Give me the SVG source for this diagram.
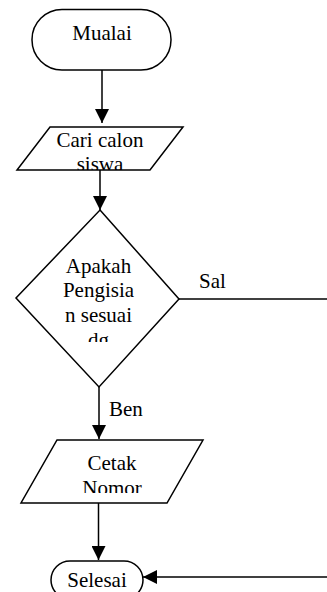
<svg xmlns="http://www.w3.org/2000/svg" width="327" height="592" viewBox="0 0 327 592">
<style>
.s{fill:#fff;stroke:#000;stroke-width:1.5}
.l{fill:none;stroke:#000;stroke-width:1.5}
text{font-family:"Liberation Serif","Times New Roman",serif;font-size:21px;fill:#000}
.c{text-anchor:middle}
</style>
<defs>
<marker id="ah" markerWidth="14" markerHeight="14" refX="14" refY="7" orient="auto" markerUnits="userSpaceOnUse">
<path d="M0,0 L14,7 L0,14 Z" fill="#000"/>
</marker>
<clipPath id="c1"><rect x="40" y="127" width="130" height="43"/></clipPath>
<clipPath id="c2"><rect x="40" y="250" width="120" height="92"/></clipPath>
<clipPath id="c3"><rect x="40" y="440" width="150" height="53"/></clipPath>
</defs>
<g id="connectors">
<line class="l" x1="102" y1="70" x2="102" y2="123" marker-end="url(#ah)"/>
<line class="l" x1="100" y1="170" x2="100" y2="210" marker-end="url(#ah)"/>
<line class="l" x1="179" y1="299" x2="327" y2="299"/>
<text x="199" y="288">Sal</text>
<line class="l" x1="99" y1="387" x2="99" y2="439" marker-end="url(#ah)"/>
<text x="109" y="416">Ben</text>
<line class="l" x1="98.5" y1="503" x2="98.5" y2="560" marker-end="url(#ah)"/>
<line class="l" x1="327" y1="577" x2="143" y2="577" marker-end="url(#ah)"/>
</g>
<g id="mulai">
<rect class="s" x="32" y="9.5" width="139" height="60.5" rx="30" ry="30"/>
<text class="c" x="102" y="40">Mualai</text>
</g>
<g id="cari">
<polygon class="s" points="50,127 183,127 150,170 17,170"/>
<g clip-path="url(#c1)">
<text class="c" x="100" y="147">Cari calon</text>
<text class="c" x="100" y="171">siswa</text>
</g>
</g>
<g id="keputusan">
<polygon class="s" points="100,210 179,299 99,387 16,298"/>
<g clip-path="url(#c2)">
<text class="c" x="98.5" y="272.5">Apakah</text>
<text class="c" x="98.5" y="297">Pengisia</text>
<text class="c" x="98.5" y="321.5">n sesuai</text>
<text class="c" x="98.5" y="346.5">dg</text>
</g>
</g>
<g id="cetak">
<polygon class="s" points="57,440 203,440 167,503 21,503"/>
<g clip-path="url(#c3)">
<text class="c" x="112" y="470">Cetak</text>
<text class="c" x="112" y="494.5">Nomor</text>
</g>
</g>
<g id="selesai">
<rect class="s" x="51" y="561" width="92" height="38" rx="19" ry="19"/>
<text class="c" x="97" y="587">Selesai</text>
</g>
</svg>
